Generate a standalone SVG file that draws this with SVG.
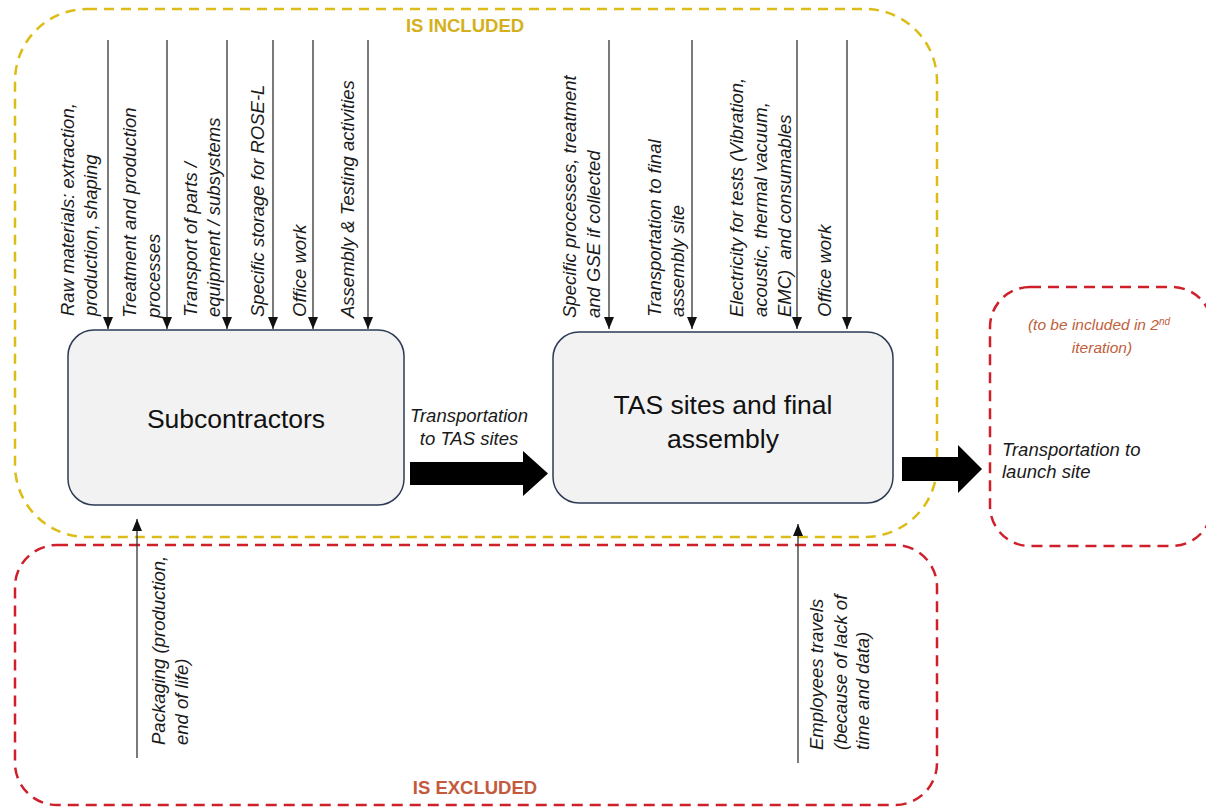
<svg xmlns="http://www.w3.org/2000/svg" width="1206" height="808" viewBox="0 0 1206 808">
<defs>
<style>
.lbl{font-family:"Liberation Sans",Arial,sans-serif;font-style:italic;font-size:18.5px;fill:#1a1a1a}
.node rect{fill:#f2f2f2;stroke:#2e3b55;stroke-width:1.5}
.node text{font-family:"Liberation Sans",Arial,sans-serif;font-size:26.5px;fill:#111;text-anchor:middle}
.thin{stroke:#333;stroke-width:1.3;fill:none;marker-end:url(#ah)}
.block{fill:#000}
.yb{fill:none;stroke:#dcbc16;stroke-width:2.5;stroke-dasharray:10 7}
.rb{fill:none;stroke:#cf1f2a;stroke-width:2.5;stroke-dasharray:11 7}
.title{font-family:"Liberation Sans",Arial,sans-serif;font-weight:bold;font-size:18.5px;text-anchor:middle}
</style>
<marker id="ah" markerUnits="userSpaceOnUse" markerWidth="12" markerHeight="10" refX="12" refY="5" orient="auto">
<path d="M0,0 L12,5 L0,10 z" fill="#111"/>
</marker>
</defs>
<rect width="1206" height="808" fill="#fff"/>

<g id="scope">
<rect class="yb" x="15" y="9" width="922" height="528" rx="72"/>
<rect class="rb" x="15" y="545" width="922" height="260" rx="42"/>
<rect class="rb" x="990" y="287" width="222" height="259" rx="40"/>
<text class="title" x="465" y="32" fill="#d4b11c">IS INCLUDED</text>
<text class="title" x="475" y="794" fill="#c45a3c">IS EXCLUDED</text>
<text class="lbl" x="1099" y="330" text-anchor="middle" style="font-size:15.5px;fill:#c0603c">(to be included in 2<tspan baseline-shift="super" style="font-size:10px">nd</tspan></text>
<text class="lbl" x="1102" y="353" text-anchor="middle" style="font-size:15.5px;fill:#c0603c">iteration)</text>
</g>

<g id="subcontractors" class="node">
<rect x="68" y="330" width="336" height="175" rx="26"/>
<text x="236" y="428">Subcontractors</text>
</g>

<g id="tas" class="node">
<rect x="553" y="332" width="340" height="171" rx="26"/>
<text x="723" y="414">TAS sites and final</text>
<text x="723" y="448">assembly</text>
</g>

<g id="connectors">
<line class="thin" x1="108" y1="40" x2="108" y2="329"/>
<line class="thin" x1="167" y1="40" x2="167" y2="329"/>
<line class="thin" x1="227" y1="40" x2="227" y2="329"/>
<line class="thin" x1="273" y1="40" x2="273" y2="329"/>
<line class="thin" x1="313" y1="40" x2="313" y2="329"/>
<line class="thin" x1="368" y1="40" x2="368" y2="329"/>
<line class="thin" x1="609" y1="40" x2="609" y2="329"/>
<line class="thin" x1="692" y1="40" x2="692" y2="329"/>
<line class="thin" x1="797" y1="40" x2="797" y2="329"/>
<line class="thin" x1="847" y1="40" x2="847" y2="329"/>
<line class="thin" x1="137" y1="758" x2="137" y2="519"/>
<line class="thin" x1="798" y1="763" x2="798" y2="524"/>
<path class="block" d="M410,462 L523,462 L523,451 L548,473.5 L523,496 L523,485 L410,485 z"/>
<path class="block" d="M902,457 L958,457 L958,445 L982,469 L958,493 L958,481 L902,481 z"/>
</g>

<g id="labels">
<text class="lbl" transform="translate(74,316) rotate(-90)"><tspan x="0" y="0">Raw materials: extraction,</tspan><tspan x="0" y="23">production, shaping</tspan></text>
<text class="lbl" transform="translate(136,318) rotate(-90)"><tspan x="0" y="0">Treatment and production</tspan><tspan x="0" y="24">processes</tspan></text>
<text class="lbl" transform="translate(197,317) rotate(-90)"><tspan x="0" y="0">Transport of parts /</tspan><tspan x="0" y="23">equipment / subsystems</tspan></text>
<text class="lbl" transform="translate(264,317) rotate(-90)">Specific storage for ROSE-L</text>
<text class="lbl" transform="translate(306,317) rotate(-90)">Office work</text>
<text class="lbl" transform="translate(354,318) rotate(-90)">Assembly &amp; Testing activities</text>
<text class="lbl" transform="translate(576,318) rotate(-90)"><tspan x="0" y="0">Specific processes, treatment</tspan><tspan x="0" y="24">and GSE if collected</tspan></text>
<text class="lbl" transform="translate(661,317) rotate(-90)"><tspan x="0" y="0">Transportation to final</tspan><tspan x="0" y="23">assembly site</tspan></text>
<text class="lbl" transform="translate(743,317) rotate(-90)"><tspan x="0" y="0">Electricity for tests (Vibration,</tspan><tspan x="0" y="24">acoustic, thermal vacuum,</tspan><tspan x="0" y="48" xml:space="preserve">EMC)  and consumables</tspan></text>
<text class="lbl" transform="translate(831,317) rotate(-90)">Office work</text>
<text class="lbl" transform="translate(165,745) rotate(-90)"><tspan x="0" y="0">Packaging (production,</tspan><tspan x="0" y="23">end of life)</tspan></text>
<text class="lbl" transform="translate(823,750) rotate(-90)"><tspan x="0" y="0">Employees travels</tspan><tspan x="0" y="24">(because of lack of</tspan><tspan x="0" y="46">time and data)</tspan></text>
<text class="lbl" x="469" y="422" text-anchor="middle">Transportation</text>
<text class="lbl" x="469" y="445" text-anchor="middle">to TAS sites</text>
<text class="lbl" x="1002" y="456">Transportation to</text>
<text class="lbl" x="1002" y="478">launch site</text>
</g>
</svg>
